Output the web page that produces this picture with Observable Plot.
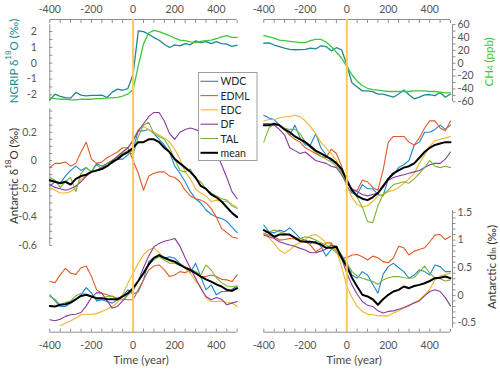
<!DOCTYPE html>
<html><head><meta charset="utf-8">
<script src="https://cdn.jsdelivr.net/npm/d3@7"></script>
<script src="https://cdn.jsdelivr.net/npm/@observablehq/plot@0.6"></script>
<style>
body{margin:0;background:#fff;}
#chart{position:relative;width:500px;height:371px;font-family:Lato,sans-serif;}
#chart svg{position:absolute;left:0;top:0;}
</style></head><body><div id="chart"></div>
<script>
// ---------- time axis (years relative to transition) ----------
const time = [-400,-375,-350,-325,-300,-275,-250,-225,-200,-175,-150,-125,-100,-75,-50,-25,0,25,50,75,100,125,150,175,200,225,250,275,300,325,350,375,400,425,450,475,500];

// ---------- top panels: NGRIP d18O (permil) and CH4 (ppb) ----------
const ngripWarm = [-2.32,-1.96,-2.1,-2.17,-2.21,-1.85,-2.02,-2.06,-2.04,-2.04,-2.02,-2.17,-1.83,-1.64,-1.71,-1.6,-0.7,2.04,2.0,1.83,1.62,1.45,1.2,0.99,1.16,1.09,1.24,1.16,1.41,1.3,1.37,1.24,1.37,1.24,1.2,1.07,1.14];
const ch4Warm = [-54,-55,-56,-56,-57,-57,-56,-56,-56,-55,-55,-54,-54,-53,-51,-48,-41,-4,30,47,51,49,46,43,39,36,35,33,32,34,35,36,38,41,43,40,40];
const ngripCool = [1.26,1.28,1.15,1.05,0.95,0.88,0.85,0.86,0.88,0.95,0.9,1.1,1.05,0.78,0.98,0.85,-0.1,-1.24,-1.5,-1.75,-1.75,-1.8,-1.95,-1.95,-2.05,-2.15,-1.95,-1.7,-2.0,-2.25,-2.15,-2.0,-1.98,-2.05,-1.85,-2.15,-1.95];
const ch4Cool = [43,41,39,36,35,34,33,32,32,35,37,37,33,26,17,8,-5,-18,-28,-35,-39,-41,-42,-43,-44,-44,-44,-44,-44,-43,-43,-43,-44,-44,-45,-46,-46];

// ---------- middle panels: Antarctic d18O (permil) ----------
const d18oWarmWDC  = [-0.18,-0.15,-0.16,-0.11,-0.07,-0.04,-0.07,-0.05,-0.08,-0.02,-0.04,-0.02,-0.02,0.01,0.01,0.04,0.08,0.21,0.21,0.22,0.19,0.15,0.11,0.06,-0.04,-0.09,-0.15,-0.22,-0.27,-0.3,-0.35,-0.38,-0.4,-0.41,-0.43,-0.47,-0.51];
const d18oWarmEDML = [-0.05,-0.02,-0.02,-0.01,-0.04,-0.02,0.06,0.13,0.01,-0.02,-0.01,0.02,0.04,0.06,0.09,0.09,0,-0.09,-0.21,-0.11,-0.09,-0.08,-0.08,-0.11,-0.12,-0.15,-0.21,-0.25,-0.27,-0.28,-0.3,-0.34,-0.4,-0.48,-0.51,-0.54,-0.55];
const d18oWarmEDC  = [-0.19,-0.21,-0.23,-0.23,-0.22,-0.19,-0.13,-0.11,-0.08,-0.07,-0.06,-0.02,0,0.03,0.06,0.09,0.15,0.22,0.24,0.22,0.2,0.18,0.16,0.13,0.08,0.01,-0.08,-0.13,-0.2,-0.23,-0.25,-0.29,-0.28,-0.29,-0.29,-0.31,-0.33];
const d18oWarmDF   = [-0.17,-0.19,-0.2,-0.21,-0.2,-0.18,-0.15,-0.11,-0.08,-0.07,-0.05,-0.02,0,0.03,0.06,0.09,0.14,0.21,0.26,0.31,0.34,0.34,0.28,0.19,0.15,0.2,0.22,0.23,0.22,0.2,0.18,0.13,0.06,-0.03,-0.12,-0.22,-0.27];
const d18oWarmTAL  = [-0.12,-0.14,-0.19,-0.15,-0.12,-0.22,-0.09,-0.05,-0.08,-0.03,-0.06,-0.02,-0.01,0.02,0.05,0.07,0.04,0.17,0.25,0.27,0.19,0.17,0.15,0.09,0.01,-0.07,-0.08,-0.06,-0.13,-0.15,-0.2,-0.23,-0.25,-0.27,-0.28,-0.32,-0.34];
const d18oWarmMean = [-0.14,-0.15,-0.16,-0.15,-0.17,-0.13,-0.11,-0.1,-0.08,-0.07,-0.06,-0.04,-0.01,0.01,0.04,0.06,0.09,0.13,0.13,0.15,0.15,0.13,0.09,0.06,0.01,-0.02,-0.05,-0.08,-0.12,-0.18,-0.2,-0.24,-0.26,-0.29,-0.33,-0.37,-0.4];

const d18oCoolWDC  = [0.32,0.3,0.29,0.25,0.22,0.18,0.25,0.16,0.11,0.11,0.19,0.09,0.04,0,-0.01,-0.08,-0.18,-0.23,-0.24,-0.17,-0.2,-0.2,-0.24,-0.25,-0.13,-0.1,-0.05,-0.03,0,0.11,0.13,0.2,0.2,0.22,0.25,0.22,0.25];
const d18oCoolEDML = [0.26,0.26,0.25,0.25,0.22,0.18,0.15,0.13,0.09,0.07,0.05,0.03,0.02,0.08,0.05,-0.04,-0.15,-0.21,-0.21,-0.14,-0.15,-0.19,-0.21,-0.07,0.13,0.17,0.17,0.17,0.13,0.11,0.16,0.23,0.28,0.28,0.23,0.21,0.28];
const d18oCoolEDC  = [0.28,0.29,0.29,0.3,0.31,0.31,0.32,0.31,0.28,0.24,0.19,0.13,0.09,0.05,0,-0.07,-0.18,-0.26,-0.31,-0.33,-0.32,-0.29,-0.25,-0.24,-0.22,-0.21,-0.19,-0.16,-0.13,-0.09,-0.02,0.04,0.1,0.14,0.15,0.16,0.17];
const d18oCoolDF   = [0.26,0.26,0.25,0.22,0.18,0.09,0.07,0.05,0.06,0.03,0,-0.01,-0.02,-0.04,-0.05,-0.1,-0.16,-0.2,-0.22,-0.24,-0.25,-0.24,-0.23,-0.19,-0.14,-0.12,-0.11,-0.1,-0.09,-0.08,-0.07,-0.05,-0.03,-0.02,-0.02,0.01,0.06];
const d18oCoolTAL  = [0.13,0.23,0.26,0.25,0.23,0.22,0.22,0.19,0.13,0.09,0.06,0.03,0.01,-0.01,-0.04,-0.09,-0.15,-0.21,-0.26,-0.33,-0.43,-0.44,-0.32,-0.24,-0.21,-0.17,-0.16,-0.15,-0.16,-0.13,-0.09,-0.05,0,-0.04,-0.05,-0.04,-0.05];
const d18oCoolMean = [0.25,0.25,0.26,0.25,0.22,0.2,0.17,0.15,0.13,0.1,0.07,0.05,0.03,0.01,-0.02,-0.06,-0.14,-0.21,-0.25,-0.27,-0.28,-0.26,-0.23,-0.18,-0.13,-0.09,-0.07,-0.05,-0.04,-0.02,0.02,0.06,0.09,0.11,0.12,0.13,0.13];

// ---------- bottom panels: Antarctic d_ln (permil) ----------
const dlnWarmWDC  = [0.01,-0.1,-0.2,-0.2,-0.14,-0.08,0.01,0.14,0.04,-0.1,-0.08,-0.11,-0.14,-0.08,-0.01,0.1,0.02,0.07,0.28,0.61,0.68,0.71,0.67,0.7,0.67,0.58,0.5,0.41,0.58,0.34,0.1,0.19,0.01,0.07,0.07,0.11,0.17];
const dlnWarmEDML = [0.25,0.23,0.37,0.49,0.4,0.38,0.5,0.53,0.34,0.1,0.04,0.01,-0.02,-0.05,-0.07,-0.08,-0.08,0.1,0.28,0.46,0.53,0.55,0.46,0.34,0.37,0.43,0.41,0.46,0.43,0.34,0.34,0.37,0.34,0.29,0.28,0.25,0.37];
const dlnWarmEDC  = [null,null,-0.55,-0.5,-0.46,-0.41,-0.35,-0.34,-0.34,-0.33,-0.29,-0.25,-0.2,-0.13,0.02,0.22,0.4,0.58,0.74,0.82,0.86,0.77,0.68,0.62,0.58,0.55,0.49,0.4,0.26,0.16,-0.05,-0.11,-0.11,-0.1,-0.13,-0.14,-0.2];
const dlnWarmDF   = [-0.44,-0.46,-0.43,-0.38,-0.35,-0.34,-0.31,-0.19,-0.04,0.05,0.04,-0.1,-0.23,-0.2,-0.1,0.01,0.1,0.26,0.5,0.71,0.88,0.94,0.98,1.0,1.03,0.89,0.68,0.49,0.31,0.13,-0.02,-0.08,-0.04,-0.07,-0.17,-0.14,-0.11];
const dlnWarmTAL  = [-0.02,-0.07,-0.17,-0.13,-0.1,-0.01,0.04,0.02,-0.02,-0.07,-0.07,-0.02,-0.01,-0.08,-0.08,0.01,0.1,0.26,0.41,0.55,0.65,0.7,0.64,0.58,0.58,0.55,0.52,0.47,0.43,0.37,0.55,0.46,0.32,0.23,0.17,0.16,0.17];
const dlnWarmMean = [-0.19,-0.2,-0.17,-0.16,-0.13,-0.07,-0.01,0.01,-0.02,-0.05,-0.05,-0.07,-0.07,-0.07,-0.02,0.04,0.13,0.26,0.4,0.56,0.68,0.73,0.68,0.64,0.61,0.55,0.5,0.46,0.4,0.34,0.29,0.25,0.2,0.16,0.1,0.08,0.13];

const dlnCoolWDC  = [1.27,1.15,1.13,1.18,1.15,1.22,1.13,1.03,1.0,0.94,0.98,0.89,0.71,0.83,0.86,0.73,0.58,0.37,0.31,0.43,0.37,0.2,0.04,0.38,0.52,0.58,0.5,0.43,0.31,0.37,0.46,0.43,0.37,0.55,0.52,0.43,0.43];
const dlnCoolEDML = [1.12,1.09,1.06,1.0,1.01,1.03,1.02,1.0,0.97,0.91,0.79,0.85,0.95,0.95,0.8,0.68,0.68,0.73,0.74,0.7,0.64,0.71,0.68,0.61,0.59,0.68,0.89,0.86,0.73,0.8,0.83,0.86,0.97,1.09,1.1,1.01,1.07];
const dlnCoolEDC  = [1.12,1.04,0.94,0.82,0.76,0.82,0.91,0.95,1.01,1.08,1.1,1.04,0.95,0.92,0.83,0.52,0.16,-0.04,-0.2,-0.29,-0.34,-0.35,-0.37,-0.37,-0.37,-0.32,-0.28,-0.23,-0.19,-0.13,-0.08,0.01,0.11,0.28,0.35,0.38,0.4];
const dlnCoolDF   = [1.09,1.06,1.03,0.97,0.94,0.91,0.89,0.85,0.82,0.77,0.77,0.8,0.84,0.91,0.89,0.67,0.4,0.19,0.02,-0.11,-0.18,-0.2,-0.28,-0.32,-0.29,-0.28,-0.25,-0.22,-0.18,-0.14,-0.1,-0.01,0.07,0.1,0.07,-0.04,-0.19];
const dlnCoolTAL  = [1.12,1.15,1.18,1.15,1.12,1.09,1.04,1.03,1.06,1.04,1.0,0.95,0.91,0.86,0.77,0.68,0.59,0.43,0.35,0.31,0.28,0.25,0.2,0.28,0.32,0.34,0.34,0.32,0.31,0.32,0.43,0.53,0.4,0.32,0.3,0.26,0.28];
const dlnCoolMean = [1.18,1.13,1.06,1.1,1.1,1.1,1.04,0.98,0.97,0.97,0.95,0.92,0.86,0.86,0.88,0.68,0.52,0.32,0.16,0.01,-0.02,-0.07,-0.17,-0.07,0.01,0.07,0.1,0.16,0.13,0.17,0.19,0.22,0.26,0.31,0.32,0.34,0.31];

// ---------- categories & tick labels ----------
const seriesNames = ["WDC","EDML","EDC","DF","TAL","mean"];
const xTickLabels = [-400,-200,0,200,400];
const ngripTickLabels = [-2,-1,0,1,2];
const ch4TickLabels = [-60,-40,-20,0,20,40,60];
const d18oTickLabels = [-0.6,-0.4,-0.2,0,0.2];
const dlnTickLabels = [-0.5,0,0.5,1,1.5];

// ---------- styling ----------
const FONT = "Lato, 'DejaVu Sans', sans-serif";
const AXIS_C = "#8e8e8e", TICK_TXT = "#555555", LABEL_C = "#333333";
const seriesColors = ["#1a86d0","#e05a26","#f0b52c","#8a3a9c","#7cb236","#000000"];
const seriesWidths = [1.1,1.1,1.1,1.1,1.1,2];
const NGRIP_C = "#1d8a8f", CH4_C = "#3cc83c", EVENT_C = "#FFC857";
const W = 500, H = 371;
const XL = [49.3, 263.3], XR = [263.3, 50];       // [marginLeft, marginRight]
const YTOP = [24.1, 269.7], YMID = [108.4, 126.1], YBOT = [210, 43.5]; // [marginTop, marginBottom]
const Y_FRAME = [19, 39.3];

const all = [ngripWarm,ch4Warm,ngripCool,ch4Cool,d18oWarmWDC,d18oWarmEDML,d18oWarmEDC,d18oWarmDF,d18oWarmTAL,d18oWarmMean,d18oCoolWDC,d18oCoolEDML,d18oCoolEDC,d18oCoolDF,d18oCoolTAL,d18oCoolMean,dlnWarmWDC,dlnWarmEDML,dlnWarmEDC,dlnWarmDF,dlnWarmTAL,dlnWarmMean,dlnCoolWDC,dlnCoolEDML,dlnCoolEDC,dlnCoolDF,dlnCoolTAL,dlnCoolMean];
all.forEach((a,i)=>{ if (a.length !== time.length) throw new Error("length mismatch in array #" + i + ": " + a.length); });

const rows = (arr) => time.map((t, i) => ({t, v: arr[i]}));
const labelIf = (labels) => (v) => labels.some(l => Math.abs(l - v) < 1e-9) ? String(+(+v).toFixed(2)) : "";

const xMinor = d3.range(-400, 501, 50);
const ngripMinor = d3.range(-4, 5).map(i => i * 0.5);
const ch4Minor = d3.range(-6, 7).map(i => i * 10);
const d18oMinor = d3.range(-12, 8).map(i => i * 0.05);
const dlnMinor = d3.range(-5, 16).map(i => i * 0.1);

const chart = document.getElementById("chart");
const baseStyle = {background: "transparent", fontFamily: FONT, fontSize: "10.5px", color: TICK_TXT, overflow: "visible"};

function layer(xm, ym, ydomain, marks) {
  const svg = Plot.plot({
    width: W, height: H,
    marginLeft: xm[0], marginRight: xm[1], marginTop: ym[0], marginBottom: ym[1],
    x: {domain: [-400, 500], axis: null, label: null},
    y: {domain: ydomain, axis: null, label: null},
    style: baseStyle,
    marks
  });
  chart.appendChild(svg);
}

function seriesMarks(arrays) {
  return arrays.map((a, i) => Plot.line(rows(a), {x: "t", y: "v", stroke: seriesColors[i], strokeWidth: seriesWidths[i], curve: "linear"}));
}

const yAxisOpts = (anchor, ticks, labels) => anchor === "left"
  ? {anchor, ticks, tickSize: -3, tickPadding: 16, tickFormat: labelIf(labels), stroke: AXIS_C, fill: TICK_TXT, label: null}
  : {anchor, ticks, tickSize: 2.5, tickPadding: 2.5, dx: 2, tickFormat: labelIf(labels), stroke: AXIS_C, fill: TICK_TXT, label: null};

// top-left: NGRIP with left axis, CH4 (shared pixels, own scale)
layer(XL, YTOP, [-2.44, 2.44], [
  Plot.ruleX([-400], {stroke: AXIS_C}),
  Plot.axisY(yAxisOpts("left", ngripMinor, ngripTickLabels)),
  Plot.line(rows(ngripWarm), {x: "t", y: "v", stroke: NGRIP_C, strokeWidth: 1.3})
]);
layer(XL, YTOP, [-60, 60], [
  Plot.line(rows(ch4Warm), {x: "t", y: "v", stroke: CH4_C, strokeWidth: 1.3})
]);
// top-right
layer(XR, YTOP, [-2.44, 2.44], [
  Plot.line(rows(ngripCool), {x: "t", y: "v", stroke: NGRIP_C, strokeWidth: 1.3})
]);
layer(XR, YTOP, [-60, 60], [
  Plot.ruleX([500], {stroke: AXIS_C, dx: 2}),
  Plot.axisY(yAxisOpts("right", ch4Minor, ch4TickLabels)),
  Plot.line(rows(ch4Cool), {x: "t", y: "v", stroke: CH4_C, strokeWidth: 1.3})
]);

// bottom panels (d_ln)
layer(XL, YBOT, [-0.59, 1.535], seriesMarks([dlnWarmWDC,dlnWarmEDML,dlnWarmEDC,dlnWarmDF,dlnWarmTAL,dlnWarmMean]));
layer(XR, YBOT, [-0.59, 1.535], [
  Plot.ruleX([500], {stroke: AXIS_C, dx: 2}),
  Plot.axisY(yAxisOpts("right", dlnMinor, dlnTickLabels)),
  ...seriesMarks([dlnCoolWDC,dlnCoolEDML,dlnCoolEDC,dlnCoolDF,dlnCoolTAL,dlnCoolMean])
]);

// middle panels (Antarctic d18O)
layer(XL, YMID, [-0.6, 0.365], [
  Plot.ruleX([-400], {stroke: AXIS_C}),
  Plot.axisY(yAxisOpts("left", d18oMinor, d18oTickLabels)),
  ...seriesMarks([d18oWarmWDC,d18oWarmEDML,d18oWarmEDC,d18oWarmDF,d18oWarmTAL,d18oWarmMean])
]);
layer(XR, YMID, [-0.6, 0.365], seriesMarks([d18oCoolWDC,d18oCoolEDML,d18oCoolEDC,d18oCoolDF,d18oCoolTAL,d18oCoolMean]));

// time frames: top & bottom x axes + event line at t = 0
for (const xm of [XL, XR]) {
  layer(xm, Y_FRAME, [0, 1], [
    Plot.ruleY([0, 1], {stroke: AXIS_C}),
    Plot.axisX({anchor: "top", ticks: xMinor, tickSize: -3, tickPadding: 10, tickFormat: labelIf(xTickLabels), stroke: AXIS_C, fill: TICK_TXT, label: null}),
    Plot.axisX({anchor: "bottom", ticks: xMinor, tickSize: -3, tickPadding: 12, tickFormat: labelIf(xTickLabels), stroke: AXIS_C, fill: TICK_TXT, label: null}),
    Plot.ruleX([0], {stroke: EVENT_C, strokeWidth: 2})
  ]);
}

// ---------- overlay: axis titles and legend ----------
const ov = d3.select(chart).append("svg").attr("width", W).attr("height", H)
  .style("font-family", FONT);

function richText(g, parts) {
  let shift = 0;
  for (const [s, kind] of parts) {
    const ts = g.append("tspan").text(s);
    let target = 0;
    if (kind === "sup") target = -4.2;
    else if (kind === "sub") target = 2.8;
    if (target !== shift) { ts.attr("dy", target - shift); shift = target; }
    if (kind) ts.style("font-size", "8px");
  }
}
function vLabel(x, y, parts, color) {
  const t = ov.append("text")
    .attr("transform", `translate(${x},${y}) rotate(-90)`)
    .attr("text-anchor", "middle").attr("dominant-baseline", "central")
    .attr("fill", color).style("font-size", "11.5px");
  richText(t, parts);
}
vLabel(12.5, 61, [["NGRIP δ"], ["18", "sup"], ["O (‰)"]], NGRIP_C);
vLabel(12.5, 176, [["Antarctic δ"], ["18", "sup"], ["O (‰)"]], LABEL_C);
vLabel(487.5, 62, [["CH"], ["4", "sub"], [" (ppb)"]], CH4_C);
vLabel(490.5, 267, [["Antarctic d"], ["ln", "sub"], [" (‰)"]], LABEL_C);

for (const cx of [141, 354]) {
  ov.append("text").attr("x", cx).attr("y", 364).attr("text-anchor", "middle")
    .attr("fill", "#4a4a4a").style("font-size", "11.5px").text("Time (year)");
}

// legend
const lg = ov.append("g");
lg.append("rect").attr("x", 198.5).attr("y", 72.5).attr("width", 58.5).attr("height", 88)
  .attr("fill", "#fff").attr("stroke", "#a0a0a0").attr("stroke-width", 1);
seriesNames.forEach((name, i) => {
  const y = 81.3 + i * 14.3;
  lg.append("line").attr("x1", 200.5).attr("x2", 218).attr("y1", y).attr("y2", y)
    .attr("stroke", seriesColors[i]).attr("stroke-width", seriesWidths[i]);
  lg.append("text").attr("x", 220.5).attr("y", y).attr("dominant-baseline", "central")
    .attr("fill", "#262626").style("font-size", "10.5px").text(name);
});
</script>
</body></html>
